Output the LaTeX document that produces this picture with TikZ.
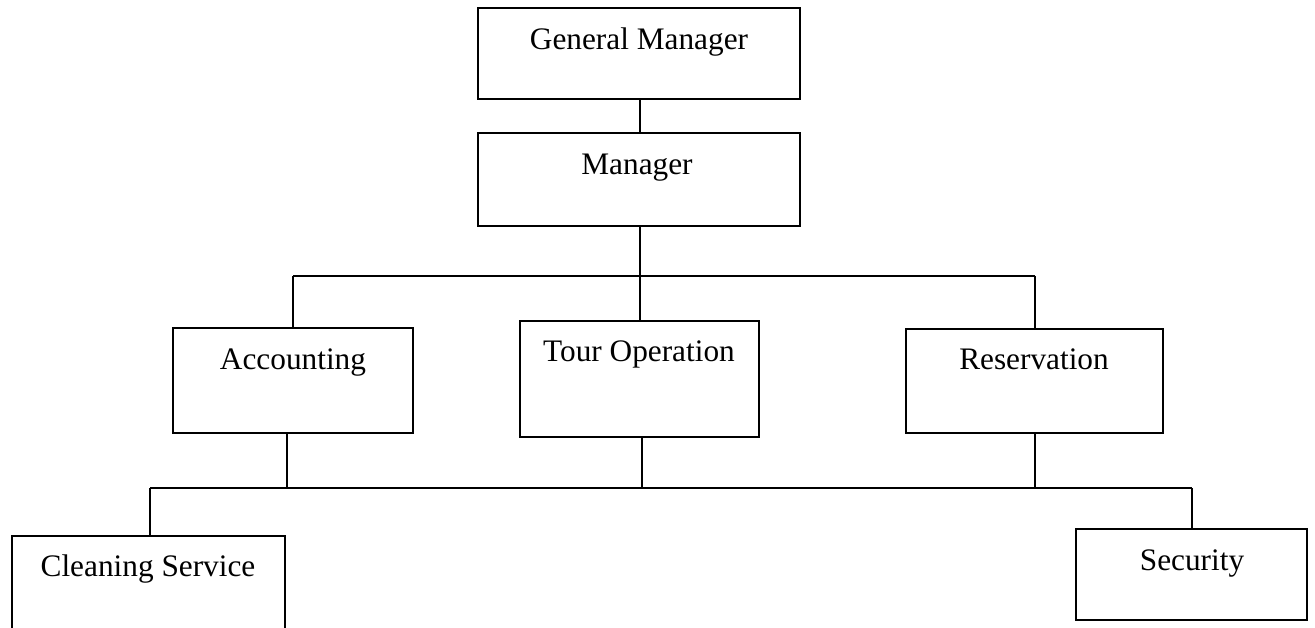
\documentclass[tikz,border=0pt]{standalone}
\usepackage{fontspec}
\setmainfont{Liberation Serif}
\begin{document}
\begin{tikzpicture}[x=1pt,y=-1pt,
  orgbox/.style={draw=black, line width=1.3pt, fill=white, inner sep=0pt, outer sep=0pt},
  orglabel/.style={anchor=base, inner sep=0pt, font=\fontsize{31.3}{36}\selectfont},
  wire/.style={draw=black, line width=1.3pt}]
\clip (0,0) rectangle (1315,628);
\fill[white] (0,0) rectangle (1315,628);

% boxes
\node[orgbox, minimum width=322pt, minimum height=91pt]  (gm)    at (639,53.5)   {};
\node[orgbox, minimum width=322pt, minimum height=93pt]  (mgr)   at (639,179.5)  {};
\node[orgbox, minimum width=240pt, minimum height=105pt] (acc)   at (293,380.5)  {};
\node[orgbox, minimum width=239pt, minimum height=116pt] (tour)  at (639.5,379)  {};
\node[orgbox, minimum width=257pt, minimum height=104pt] (res)   at (1034.5,381) {};
\node[orgbox, minimum width=273pt, minimum height=114pt] (clean) at (148.5,593)  {};
\node[orgbox, minimum width=231pt, minimum height=91pt]  (sec)   at (1191.5,574.5) {};

% labels
\node[orglabel] (gmt)    at (639,50)     {General Manager};
\node[orglabel] (mgrt)   at (637,175)    {Manager};
\node[orglabel] (acct)   at (293,370)    {Accounting};
\node[orglabel] (tourt)  at (639,362)    {Tour Operation};
\node[orglabel] (rest)   at (1034,370)   {Reservation};
\node[orglabel] (cleant) at (148,576)    {Cleaning Service};
\node[orglabel] (sect)   at (1192,570)   {Security};

% bus coordinates
\coordinate (busA) at (640,276);
\coordinate (busAl) at (293,276);
\coordinate (busAr) at (1035,276);
\coordinate (busB) at (642,488);
\coordinate (busBl) at (150,488);
\coordinate (busBr) at (1192,488);

% upper connectors
\draw[wire] (gm.south -| busA) -- (mgr.north -| busA);
\draw[wire] (mgr.south -| busA) -- (busA);
\draw[wire] (busAl) -- (busAr);
\draw[wire] (busAl) -- (acc.north -| busAl);
\draw[wire] (busA) -- (tour.north -| busA);
\draw[wire] (busAr) -- (res.north -| busAr);

% lower connectors
\draw[wire] ([xshift=-6pt]acc.south) -- ([xshift=-6pt]acc.south |- busB);
\draw[wire] (tour.south -| busB) -- (busB);
\draw[wire] (res.south -| busAr) -- (busAr |- busB);
\draw[wire] (busBl) -- (busBr);
\draw[wire] (busBl) -- (clean.north -| busBl);
\draw[wire] (busBr) -- (sec.north -| busBr);
\end{tikzpicture}
\end{document}
